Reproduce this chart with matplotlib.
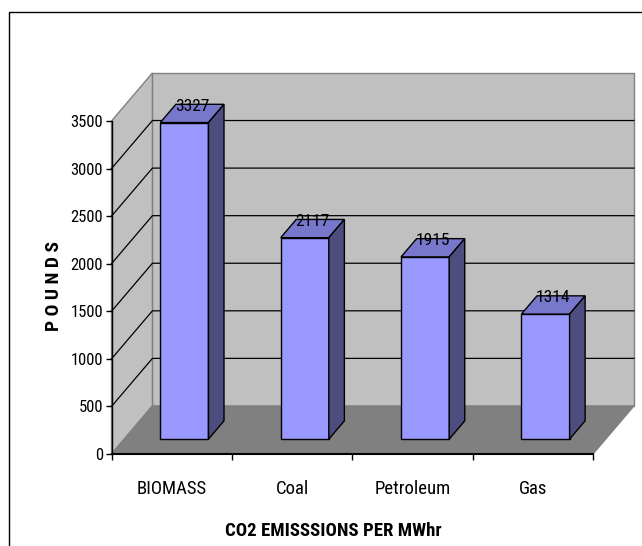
import matplotlib
matplotlib.use('Agg')
import matplotlib.pyplot as plt
from matplotlib.patches import Polygon, Rectangle
import numpy as np

categories = ['BIOMASS', 'Coal', 'Petroleum', 'Gas']
pounds = [3327, 2117, 1915, 1314]
yticks = [0, 500, 1000, 1500, 2000, 2500, 3000, 3500]

narrow = ['Roboto Condensed', 'Liberation Sans', 'DejaVu Sans']

# depth of the 3d box, in data units (x, y)
DX, DY = 0.34, 505
BAR_W = 0.4
D0, D1 = 0.31, 0.69

fig = plt.figure(figsize=(6.42, 5.46), dpi=100)
W, H = 642, 546
ax = fig.add_axes([111.5 / W, (H - 454) / H, 481.5 / W, 333 / H])
ax.set_xlim(0, 4)
ax.set_ylim(0, 3500)
ax.patch.set_visible(False)

# outer chart border
fig.patches.append(Rectangle((9 / W, -0.05), 1.1, (H - 12) / H + 0.05,
                             transform=fig.transFigure, fill=False,
                             edgecolor='black', linewidth=1.0))

wall = '#C0C0C0'
edge = '#808080'
# back wall, side wall, floor
ax.add_patch(Polygon([(DX, DY), (4 + DX, DY), (4 + DX, 3500 + DY), (DX, 3500 + DY)],
                     closed=True, facecolor=wall, edgecolor=edge, lw=1, clip_on=False, zorder=0))
ax.add_patch(Polygon([(0, 0), (DX, DY), (DX, 3500 + DY), (0, 3500)],
                     closed=True, facecolor=wall, edgecolor=edge, lw=1, clip_on=False, zorder=0))
ax.add_patch(Polygon([(0, 0), (4, 0), (4 + DX, DY), (DX, DY)],
                     closed=True, facecolor='#808080', edgecolor=edge, lw=1, clip_on=False, zorder=0.5))

# gridlines on back wall and side wall
for t in yticks[1:-1]:
    ax.plot([0, DX, 4 + DX], [t, t + DY, t + DY], color='black', lw=0.9,
            clip_on=False, zorder=0.6)

# bars: front faces through ax.bar, tops and sides as polygons
centers = np.arange(len(categories)) + 0.5
ax.bar(centers + D0 * DX, pounds, width=BAR_W, bottom=D0 * DY,
       color='#9999FF', edgecolor='black', linewidth=1, zorder=3, clip_on=False)
for c, v in zip(centers, pounds):
    x0 = c - BAR_W / 2 + D0 * DX
    x1 = c + BAR_W / 2 + D0 * DX
    y0 = D0 * DY
    ddx = (D1 - D0) * DX
    ddy = (D1 - D0) * DY
    top = [(x0, y0 + v), (x1, y0 + v), (x1 + ddx, y0 + v + ddy), (x0 + ddx, y0 + v + ddy)]
    side = [(x1, y0), (x1 + ddx, y0 + ddy), (x1 + ddx, y0 + v + ddy), (x1, y0 + v)]
    ax.add_patch(Polygon(top, closed=True, facecolor='#7777CC', edgecolor='black',
                         lw=1, clip_on=False, zorder=3))
    ax.add_patch(Polygon(side, closed=True, facecolor='#4D4D80', edgecolor='black',
                         lw=1, clip_on=False, zorder=3))
    ax.text(c + 0.5 * DX, v + 0.5 * DY + 30, str(v), ha='center', va='baseline',
            fontsize=12.5, family=narrow, zorder=5)

# axes
for s in ['top', 'right']:
    ax.spines[s].set_visible(False)
ax.spines['left'].set_linewidth(1)
ax.spines['bottom'].set_linewidth(1.5)
ax.spines['left'].set_zorder(1)
ax.spines['bottom'].set_zorder(1)
ax.set_yticks(yticks)
ax.set_yticklabels([str(t) for t in yticks], family=narrow, fontsize=12)
ax.tick_params(axis='y', length=4, width=1, pad=2)
ax.set_xticks(range(5))
ax.set_xticklabels([])
ax.tick_params(axis='x', which='major', length=4, width=1)
ax.set_xticks(centers, minor=True)
ax.set_xticklabels(categories, minor=True, family=narrow, fontsize=13.5)
ax.tick_params(axis='x', which='minor', length=0, pad=19)

ax.set_ylabel('P O U N D S', family=narrow, fontsize=14, fontweight='bold')
ax.yaxis.set_label_coords((63 - 111.5) / 481.5, (454 - 286) / 333)
ax.set_xlabel('CO2 EMISSSIONS PER MWhr', family=narrow, fontsize=13.5, fontweight='bold')
ax.xaxis.set_label_coords((333 - 111.5) / 481.5, (454 - 522) / 333)

fig.savefig('out.png', dpi=100)
